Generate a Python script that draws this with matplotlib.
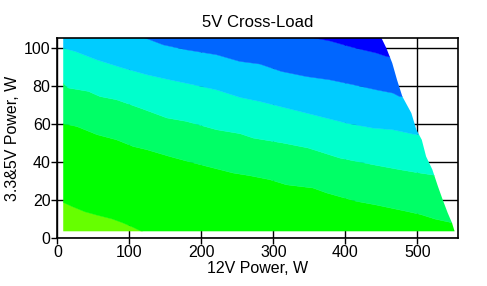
import matplotlib
matplotlib.use("Agg")
import matplotlib.pyplot as plt
from matplotlib.patches import Polygon

plt.rcParams['font.family'] = ['Liberation Sans', 'DejaVu Sans']

# Band boundaries (12V power, 3.3&5V power)
b0_x = [0, 8, 20, 38, 55, 76, 91, 105, 119, 560]
b0_y = [18.7, 18.7, 16.6, 13.8, 12.0, 10.0, 7.9, 5.6, 3.0, 0]
b1_x = [0, 8, 27, 55, 82, 105, 124, 156, 189, 244, 267, 295, 318, 355, 374, 415, 441, 485, 505, 524, 560]
b1_y = [60.2, 60.2, 58.7, 54.4, 51.7, 48.2, 46.5, 42.9, 39.5, 34.2, 32.8, 30.7, 28.0, 26.3, 23.7, 19.3, 17.5, 14.0, 12.3, 10.0, 7.0]
b2_x = [0, 8, 15, 43, 59, 82, 115, 152, 179, 221, 254, 272, 313, 348, 392, 438, 475, 498, 519, 560]
b2_y = [81.6, 81.6, 79.0, 77.2, 74.5, 72.8, 68.4, 63.2, 61.4, 57.0, 54.9, 52.6, 50.0, 47.4, 42.1, 38.6, 36.0, 34.5, 33.3, 31.0]
b3_x = [0, 8, 25, 55, 91, 124, 156, 189, 221, 254, 281, 318, 355, 401, 438, 466, 494, 560]
b3_y = [100.0, 100.0, 98.2, 93.8, 89.5, 86.0, 83.3, 80.7, 78.0, 74.0, 71.9, 68.4, 64.9, 60.5, 57.9, 57.0, 54.7, 52.0]
b4_x = [0, 122, 147, 179, 221, 253, 281, 311, 346, 378, 411, 443, 466, 475, 560]
b4_y = [116.0, 105.3, 101.7, 99.1, 96.5, 93.0, 91.6, 87.7, 85.0, 83.3, 80.7, 78.0, 76.3, 74.5, 72.0]
b5_x = [0, 300, 357, 378, 406, 424, 443, 457, 560]
b5_y = [130.0, 112.0, 105.3, 103.8, 100.8, 99.1, 97.4, 95.6, 90.0]

# Outline of the measured region
edge_x = [8, 551.6, 548, 542, 535, 528.4, 520.7, 512, 506, 498.5, 491.5, 479, 471.6, 465, 456.8, 450, 446, 8]
edge_y = [3.5, 3.5, 7.9, 13.2, 20.2, 27.2, 36.0, 42.9, 51.7, 57.0, 65.8, 74.5, 83.3, 92.1, 100.0, 105.3, 112, 112]

band_colors = ['#66ff00', '#00ff00', '#00ff66', '#00ffcc', '#00ccff', '#0066ff', '#0000ff']

fig = plt.figure(figsize=(4.87, 2.86), dpi=100)
ax = fig.add_axes([0.118, 0.168, 0.822, 0.699])

clip = Polygon(list(zip(edge_x, edge_y)), closed=True, transform=ax.transData,
               facecolor='none', edgecolor='none')
ax.add_patch(clip)

bounds = [([0, 560], [-5, -5]), (b0_x, b0_y), (b1_x, b1_y), (b2_x, b2_y),
          (b3_x, b3_y), (b4_x, b4_y), (b5_x, b5_y), ([0, 560], [140, 140])]
for i, col in enumerate(band_colors):
    lx, ly = bounds[i]
    ux, uy = bounds[i + 1]
    pts = list(zip(lx, ly)) + list(zip(ux, uy))[::-1]
    poly = Polygon(pts, closed=True, facecolor=col, edgecolor=col, linewidth=0.3, zorder=2)
    ax.add_patch(poly)
    poly.set_clip_path(clip)

ax.set_xlim(0, 556)
ax.set_ylim(0, 105.3)
ax.set_xticks([0, 100, 200, 300, 400, 500])
ax.set_yticks([0, 20, 40, 60, 80, 100])
ax.set_axisbelow(True)
ax.grid(True, color='black', linewidth=1.0)
for s in ax.spines.values():
    s.set_linewidth(1.2)
    s.set_zorder(5)
ax.tick_params(direction='out', length=4, width=1.0, labelsize=11.5, pad=1)
ax.set_title('5V Cross-Load', fontsize=12, pad=8)
ax.set_xlabel('12V Power, W', fontsize=11.5, labelpad=1)
ax.set_ylabel('3.3&5V Power, W', fontsize=11.5, labelpad=3)

fig.savefig('out.png', dpi=100)
